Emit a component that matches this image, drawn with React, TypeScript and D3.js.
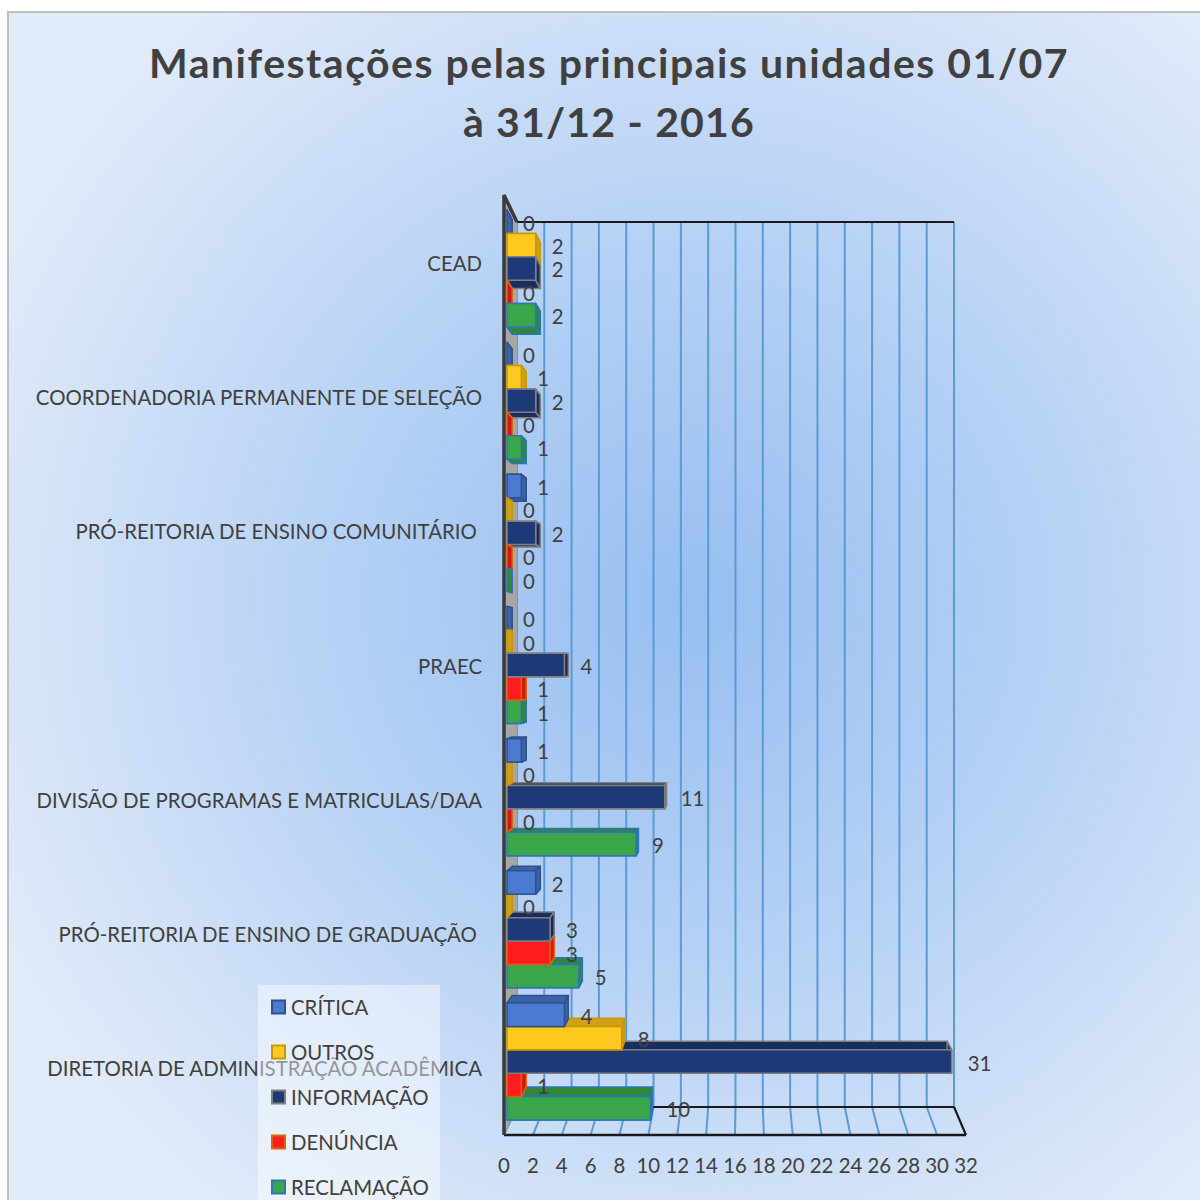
import * as React from 'react';
import * as d3 from 'd3';

const categories = [
  'CEAD',
  'COORDENADORIA PERMANENTE DE SELEÇÃO',
  'PRÓ-REITORIA DE ENSINO COMUNITÁRIO ',
  'PRAEC',
  'DIVISÃO DE PROGRAMAS E MATRICULAS/DAA',
  'PRÓ-REITORIA DE ENSINO DE GRADUAÇÃO ',
  'DIRETORIA DE ADMINISTRAÇÃO ACADÊMICA',
];

const seriesNames = ['CRÍTICA', 'OUTROS', 'INFORMAÇÃO', 'DENÚNCIA', 'RECLAMAÇÃO'];

const critica = [0, 0, 1, 0, 1, 2, 4];
const outros = [2, 1, 0, 0, 0, 0, 8];
const informacao = [2, 2, 2, 4, 11, 3, 31];
const denuncia = [0, 0, 0, 1, 0, 3, 1];
const reclamacao = [2, 1, 0, 1, 9, 5, 10];

const xTicks = d3.range(0, 33, 2);

const fills = ['#4a7bd0', '#ffc81e', '#1f3876', '#ff1c1c', '#3aa64a'];
const strokes = ['#2f528f', '#c99700', '#7f7f7f', '#e0620d', '#2e75b6'];

const W = 1200;
const H = 1200;
const textColor = '#404040';
const font = 'Lato, "Open Sans", sans-serif';
const labelSize = 20.4;

// perspective of the 3D plot area
const vpX = 744;
const vpY = 660;
const wallDepth = 0.946;
const barDepth = 0.978;

const frontX = d3.scaleLinear().domain([0, 32]).range([504, 966]);
const backX = (v: number) => vpX + (frontX(v) - vpX) * wallDepth;
const barX = d3.scaleLinear().domain([0, 32]).range([507, 966]);

const wall = { frontTop: 195, backTop: 222, backBottom: 1107, frontBottom: 1135 };

const labelY = d3.scaleBand<string>().domain(categories).range([196, 1135]);
const groupY = d3.scaleBand<string>().domain(categories).range([210, 1120]).paddingInner(0.115);
const innerY = d3.scaleBand<string>().domain(seriesNames).range([0, groupY.bandwidth()]);

interface Bar {
  key: string;
  s: number;
  value: number;
  x0: number;
  x1: number;
  y0: number;
  y1: number;
}

const proj = (x: number, y: number): [number, number] => [
  vpX + (x - vpX) * barDepth,
  vpY + (y - vpY) * barDepth,
];

const pts = (p: [number, number][]) => p.map((d) => d.join(',')).join(' ');

export default function App() {
  const values = [critica, outros, informacao, denuncia, reclamacao];

  const bars: Bar[] = [];
  categories.forEach((c, i) => {
    seriesNames.forEach((sn, s) => {
      const y0 = (groupY(c) as number) + (innerY(sn) as number);
      bars.push({
        key: `${i}-${s}`,
        s,
        value: values[s][i],
        x0: barX(0),
        x1: barX(values[s][i]),
        y0,
        y1: y0 + innerY.bandwidth(),
      });
    });
  });
  // far from the vanishing point first
  const ordered = [...bars].sort(
    (a, b) => Math.abs((b.y0 + b.y1) / 2 - vpY) - Math.abs((a.y0 + a.y1) / 2 - vpY)
  );

  const legendTop = 985;
  const legendStep = 45;

  return (
    <div style={{ position: 'absolute', left: 0, top: 0 }}>
      <svg width={W} height={H} style={{ display: 'block' }}>
        <defs>
          <radialGradient id="bg" gradientUnits="userSpaceOnUse" cx="690" cy="600" r="760">
            <stop offset="0" stopColor="#97bff0" />
            <stop offset="0.45" stopColor="#b4d0f5" />
            <stop offset="1" stopColor="#e0eaf9" />
          </radialGradient>
        </defs>
        <rect x={0} y={0} width={W} height={H} fill="#ffffff" />
        <rect x={8} y={12} width={W} height={H} fill="url(#bg)" stroke="#bfbfbf" strokeWidth={2} />

        {/* back wall gridlines */}
        {xTicks.map((t) => (
          <line
            key={`g${t}`}
            x1={backX(t)}
            x2={backX(t)}
            y1={wall.backTop}
            y2={wall.backBottom}
            stroke="#5b9bd5"
            strokeWidth={2}
          />
        ))}
        {/* floor gridlines */}
        {xTicks.map((t) => (
          <line
            key={`f${t}`}
            x1={backX(t)}
            x2={frontX(t)}
            y1={wall.backBottom}
            y2={wall.frontBottom}
            stroke="#5b9bd5"
            strokeWidth={2}
          />
        ))}
        <line x1={backX(0)} x2={backX(32)} y1={wall.backTop} y2={wall.backTop} stroke="#1a1a1a" strokeWidth={2} />
        <line x1={backX(0)} x2={backX(32)} y1={wall.backBottom} y2={wall.backBottom} stroke="#1a1a1a" strokeWidth={2} />
        <line x1={frontX(0)} x2={frontX(32)} y1={wall.frontBottom} y2={wall.frontBottom} stroke="#1a1a1a" strokeWidth={2.5} />
        <line x1={backX(32)} x2={frontX(32)} y1={wall.backBottom} y2={wall.frontBottom} stroke="#1a1a1a" strokeWidth={2} />

        {/* left wall */}
        <polygon
          points={pts([
            [frontX(0), wall.frontTop],
            [backX(0), wall.backTop],
            [backX(0), wall.backBottom],
            [frontX(0), wall.frontBottom],
          ])}
          fill="#a6a6a6"
        />
        <polyline
          points={pts([
            [backX(0), wall.backTop],
            [frontX(0), wall.frontTop],
            [frontX(0), wall.frontBottom],
          ])}
          fill="none"
          stroke="#3a3a3a"
          strokeWidth={3.5}
        />

        {/* bars */}
        {ordered.map((b) => {
          const fill = fills[b.s];
          const dark = d3.color(fill)!.darker(0.6).formatHex();
          const stroke = strokes[b.s];
          const b00 = proj(b.x0, b.y0);
          const b10 = proj(b.x1, b.y0);
          const b01 = proj(b.x0, b.y1);
          const b11 = proj(b.x1, b.y1);
          return (
            <g key={b.key} stroke={stroke} strokeWidth={1.5} strokeLinejoin="round">
              <polygon points={pts([[b.x0, b.y0], [b.x1, b.y0], b10, b00])} fill={dark} />
              <polygon points={pts([[b.x0, b.y1], [b.x1, b.y1], b11, b01])} fill={dark} />
              <polygon points={pts([[b.x1, b.y0], [b.x1, b.y1], b11, b10])} fill={dark} />
              {b.value > 0 && (
                <rect x={b.x0} y={b.y0} width={b.x1 - b.x0} height={b.y1 - b.y0} fill={fill} />
              )}
            </g>
          );
        })}

        {/* value labels */}
        {bars.map((b) => (
          <text
            key={`v${b.key}`}
            x={b.x1 + 16}
            y={(b.y0 + b.y1) / 2 + 1}
            dominantBaseline="central"
            fontFamily={font}
            fontSize={labelSize}
            fill={textColor}
          >
            {b.value}
          </text>
        ))}

        {/* category labels */}
        {categories.map((c) => (
          <text
            key={c}
            x={482}
            y={(labelY(c) as number) + labelY.bandwidth() / 2}
            textAnchor="end"
            dominantBaseline="central"
            fontFamily={font}
            fontSize={labelSize}
            fill={textColor}
            style={{ whiteSpace: 'pre' }}
          >
            {c}
          </text>
        ))}

        {/* x tick labels */}
        {xTicks.map((t) => (
          <text
            key={`t${t}`}
            x={frontX(t)}
            y={1165}
            textAnchor="middle"
            dominantBaseline="central"
            fontFamily={font}
            fontSize={labelSize}
            fill={textColor}
          >
            {t}
          </text>
        ))}

        {/* legend */}
        <rect x={258} y={legendTop} width={182} height={240} fill="#ffffff" fillOpacity={0.45} />
        {seriesNames.map((s, i) => {
          const cy = legendTop + 22 + i * legendStep;
          return (
            <g key={s}>
              <rect x={272} y={cy - 6.5} width={13} height={13} fill={fills[i]} stroke={strokes[i]} strokeWidth={2} />
              <text x={291} y={cy} dominantBaseline="central" fontFamily={font} fontSize={labelSize} fill={textColor}>
                {s}
              </text>
            </g>
          );
        })}

        {/* title */}
        <text x={609} y={62} textAnchor="middle" dominantBaseline="central" fontFamily={font} fontWeight="bold" fontSize={41} letterSpacing={1.5} fill={textColor}>
          Manifestações pelas principais unidades 01/07
        </text>
        <text x={609} y={121} textAnchor="middle" dominantBaseline="central" fontFamily={font} fontWeight="bold" fontSize={41} letterSpacing={1.2} fill={textColor}>
          à 31/12 - 2016
        </text>
      </svg>
    </div>
  );
}
